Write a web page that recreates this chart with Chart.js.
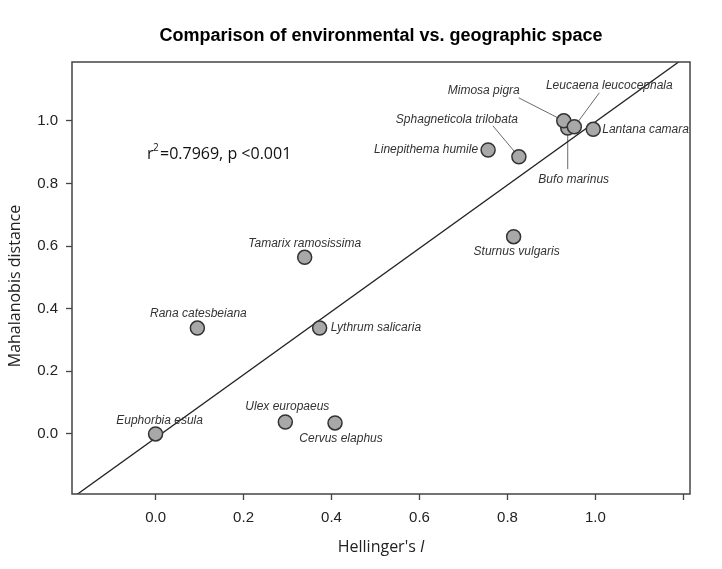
<!DOCTYPE html>
<html>
<head>
<meta charset="utf-8">
<script src="https://cdn.jsdelivr.net/npm/chart.js@4.4.1/dist/chart.umd.min.js"></script>
<style>
  html, body { margin: 0; padding: 0; background: #fff; }
  #wrap { width: 722px; height: 569px; position: relative; }
</style>
</head>
<body>
<div id="wrap"><canvas id="envChart"></canvas></div>
<script>
// species and their coordinates
const species = [
  'Euphorbia esula', 'Rana catesbeiana', 'Tamarix ramosissima', 'Lythrum salicaria',
  'Ulex europaeus', 'Cervus elaphus', 'Linepithema humile', 'Sphagneticola trilobata',
  'Sturnus vulgaris', 'Bufo marinus', 'Mimosa pigra', 'Leucaena leucocephala', 'Lantana camara'
];
const hellinger = [0.0, 0.095, 0.339, 0.373, 0.295, 0.408, 0.756, 0.826, 0.814, 0.937, 0.928, 0.952, 0.995];
const mahalanobis = [0.0, 0.338, 0.564, 0.338, 0.038, 0.035, 0.907, 0.885, 0.63, 0.977, 1.0, 0.981, 0.973];

// regression line
const fitSlope = 1.01;
const fitIntercept = -0.013;
const fitX = [-0.25, 1.3];

const xTicks = [0.0, 0.2, 0.4, 0.6, 0.8, 1.0, 1.2];
const xTickLabels = ['0.0', '0.2', '0.4', '0.6', '0.8', '1.0', ''];
const yTicks = [0.0, 0.2, 0.4, 0.6, 0.8, 1.0];
const yTickLabels = ['0.0', '0.2', '0.4', '0.6', '0.8', '1.0'];

const FONT = '"Liberation Sans", Arial, sans-serif';
const HUMANIST = '"Open Sans", "Noto Sans", sans-serif';

// label placement relative to each point (pixels), plus optional leader line end
const labelPos = {
  'Euphorbia esula':        { dx: 4, dy: -13, align: 'center' },
  'Rana catesbeiana':       { dx: 1, dy: -14, align: 'center' },
  'Tamarix ramosissima':    { dx: 0, dy: -14, align: 'center' },
  'Lythrum salicaria':      { dx: 11, dy: 0, align: 'left' },
  'Ulex europaeus':         { dx: 2, dy: -15, align: 'center' },
  'Cervus elaphus':         { dx: 6, dy: 16, align: 'center' },
  'Linepithema humile':     { dx: -10, dy: 0, align: 'right' },
  'Sphagneticola trilobata':{ dx: -62, dy: -37, align: 'center', lead: [-26, -31] },
  'Sturnus vulgaris':       { dx: 3, dy: 15, align: 'center' },
  'Bufo marinus':           { dx: 6, dy: 52, align: 'center', lead: [0, 41] },
  'Mimosa pigra':           { dx: -80, dy: -30, align: 'center', lead: [-45, -23] },
  'Leucaena leucocephala':  { dx: 35, dy: -41, align: 'center', lead: [25, -34] },
  'Lantana camara':         { dx: 9, dy: 0, align: 'left' }
};

const decorations = {
  id: 'decorations',
  beforeDatasetsDraw(chart) {
    const { ctx } = chart;
    const meta = chart.getDatasetMeta(0);
    ctx.save();
    ctx.strokeStyle = '#6a6a6a';
    ctx.lineWidth = 1;
    species.forEach((name, i) => {
      const p = labelPos[name];
      if (!p.lead) return;
      const pt = meta.data[i];
      ctx.beginPath();
      ctx.moveTo(pt.x, pt.y);
      ctx.lineTo(pt.x + p.lead[0], pt.y + p.lead[1]);
      ctx.stroke();
    });
    ctx.restore();
  },
  afterDatasetsDraw(chart) {
    const { ctx, chartArea: a } = chart;
    const meta = chart.getDatasetMeta(0);
    ctx.save();
    // species labels
    ctx.font = 'italic 12px ' + FONT;
    ctx.fillStyle = '#333';
    ctx.textBaseline = 'middle';
    species.forEach((name, i) => {
      const p = labelPos[name];
      const pt = meta.data[i];
      ctx.textAlign = p.align;
      ctx.fillText(name, pt.x + p.dx, pt.y + p.dy);
    });

    // plot box
    ctx.strokeStyle = '#444';
    ctx.lineWidth = 1.5;
    ctx.strokeRect(a.left, a.top, a.right - a.left, a.bottom - a.top);

    // title
    ctx.fillStyle = '#000';
    ctx.textAlign = 'center';
    ctx.font = 'bold 18px ' + FONT;
    ctx.fillText('Comparison of environmental vs. geographic space', (a.left + a.right) / 2, 36);

    // r2 annotation
    ctx.fillStyle = '#111';
    ctx.textAlign = 'left';
    ctx.textBaseline = 'alphabetic';
    ctx.font = '16px ' + HUMANIST;
    ctx.fillText('r', 147, 159);
    ctx.font = '10px ' + HUMANIST;
    ctx.fillText('2', 153, 151);
    ctx.font = '16px ' + HUMANIST;
    ctx.fillText('=0.7969, p <0.001', 160, 159);

    // x title with italic I
    ctx.fillStyle = '#222';
    const t1 = "Hellinger's ";
    ctx.font = 'italic 16px ' + HUMANIST;
    const w2 = ctx.measureText('I').width;
    ctx.font = '16px ' + HUMANIST;
    const w1 = ctx.measureText(t1).width;
    const x0 = (a.left + a.right) / 2 - (w1 + w2) / 2;
    ctx.textBaseline = 'middle';
    ctx.fillText(t1, x0, 547);
    ctx.font = 'italic 16px ' + HUMANIST;
    ctx.fillText('I', x0 + w1, 547);

    // y title
    ctx.translate(15, 286);
    ctx.rotate(-Math.PI / 2);
    ctx.textAlign = 'center';
    ctx.font = '16px ' + HUMANIST;
    ctx.fillText('Mahalanobis distance', 0, 0);
    ctx.restore();
  }
};

const tickGrid = { drawOnChartArea: false, drawTicks: true, tickLength: 6, color: '#444', tickWidth: 1.3 };
const tickFont = { family: FONT, size: 15 };

new Chart(document.getElementById('envChart'), {
  type: 'scatter',
  data: {
    datasets: [
      {
        label: 'species',
        data: hellinger.map((x, i) => ({ x: x, y: mahalanobis[i] })),
        pointRadius: 7,
        pointBackgroundColor: '#a8a8a8',
        pointBorderColor: '#333',
        pointBorderWidth: 1.5,
        order: 0
      },
      {
        label: 'fit',
        type: 'line',
        data: fitX.map(x => ({ x: x, y: fitSlope * x + fitIntercept })),
        borderColor: '#222',
        borderWidth: 1.3,
        pointRadius: 0,
        fill: false,
        order: 1
      }
    ]
  },
  options: {
    responsive: true,
    maintainAspectRatio: false,
    animation: false,
    events: [],
    layout: { padding: { top: 62, right: 32, left: 0, bottom: 0 } },
    plugins: { legend: { display: false }, tooltip: { enabled: false }, title: { display: false } },
    scales: {
      x: {
        type: 'linear',
        min: -0.19,
        max: 1.215,
        afterBuildTicks: s => { s.ticks = xTicks.map(v => ({ value: v })); },
        afterFit: s => { s.height = 75; },
        ticks: { callback: (v, i) => xTickLabels[i], font: tickFont, color: '#222', padding: 9, maxRotation: 0 },
        grid: tickGrid,
        border: { display: false }
      },
      y: {
        type: 'linear',
        min: -0.192,
        max: 1.188,
        afterBuildTicks: s => { s.ticks = yTicks.map(v => ({ value: v })); },
        afterFit: s => { s.width = 72; },
        ticks: { callback: (v, i) => yTickLabels[i], font: tickFont, color: '#222', padding: 8 },
        grid: tickGrid,
        border: { display: false }
      }
    }
  },
  plugins: [decorations]
});
</script>
</body>
</html>
